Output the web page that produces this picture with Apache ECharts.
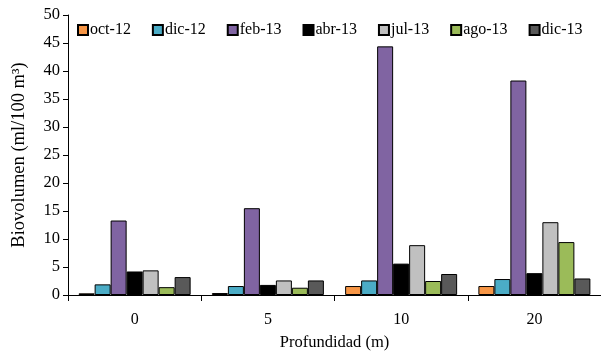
<!DOCTYPE html>
<html><head><meta charset="utf-8">
<script src="https://cdn.jsdelivr.net/npm/echarts@6/dist/echarts.min.js"></script>
<style>html,body{margin:0;padding:0;background:#fff}#c{width:601px;height:352px}</style>
</head><body><div id="c"></div>
<script>
const categories = ['0', '5', '10', '20'];
const seriesNames = ['oct-12', 'dic-12', 'feb-13', 'abr-13', 'jul-13', 'ago-13', 'dic-13'];
const oct12 = [0.3, 0.35, 1.6, 1.6];
const dic12 = [1.9, 1.6, 2.6, 2.85];
const feb13 = [13.3, 15.5, 44.4, 38.3];
const abr13 = [4.2, 1.8, 5.6, 3.9];
const jul13 = [4.4, 2.6, 8.9, 13.0];
const ago13 = [1.4, 1.3, 2.5, 9.45];
const dic13 = [3.2, 2.6, 3.75, 2.95];
const yTicks = [0, 5, 10, 15, 20, 25, 30, 35, 40, 45, 50];
const colors = ['#F79646', '#4BACC6', '#8064A2', '#000000', '#C0C0C0', '#9BBB59', '#595959'];
const values = [oct12, dic12, feb13, abr13, jul13, ago13, dic13];
const font = 'Liberation Serif';
const chart = echarts.init(document.getElementById('c'));
chart.setOption({
  animation: false,
  textStyle: { fontFamily: font },
  legend: {
    top: 17, left: 72, itemWidth: 10, itemHeight: 10, itemGap: 21,
    icon: 'rect',
    textStyle: { fontFamily: font, fontSize: 16, color: '#000', padding: [0, 0, 0, -3] },
    data: seriesNames
  },
  grid: { left: 68, right: 0, top: 15, bottom: 57, containLabel: false, outerBoundsMode: 'none' },
  xAxis: {
    type: 'category', data: categories,
    name: 'Profundidad (m)', nameLocation: 'middle', nameGap: 39,
    nameTextStyle: { fontFamily: font, fontSize: 16.5, color: '#000' },
    axisLine: { lineStyle: { color: '#000', width: 1 } },
    axisTick: { show: true, length: 6, lineStyle: { color: '#000' } },
    axisLabel: { fontFamily: font, fontSize: 16, color: '#000', margin: 17 }
  },
  yAxis: {
    type: 'value', min: yTicks[0], max: yTicks[yTicks.length - 1], interval: 5,
    name: 'Biovolumen (ml/100 m³)', nameLocation: 'middle', nameGap: 39, nameRotate: 90,
    nameTextStyle: { fontFamily: font, fontSize: 18.5, color: '#000' },
    axisLine: { show: true, lineStyle: { color: '#000', width: 1 } },
    axisTick: { show: true, length: 5, lineStyle: { color: '#000' } },
    splitLine: { show: false },
    axisLabel: { fontFamily: font, fontSize: 16.5, color: '#000', margin: 8 }
  },
  series: seriesNames.map((n, i) => ({
    name: n, type: 'bar', data: values[i],
    barWidth: 16, barGap: '0%', barCategoryGap: '16%',
    itemStyle: { color: colors[i], borderColor: '#000', borderWidth: 1 }
  }))
});
</script></body></html>
